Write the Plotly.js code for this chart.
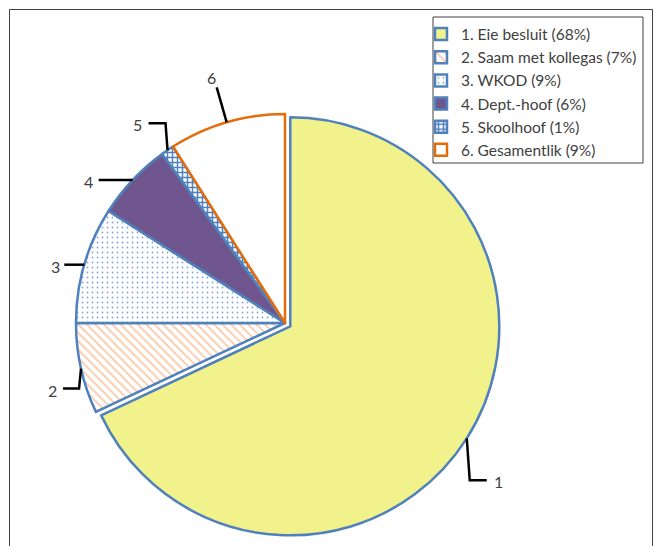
<!DOCTYPE html>
<html><head><meta charset="utf-8">
<script src="https://cdn.plot.ly/plotly-3.0.1.min.js"></script>
<style>html,body{margin:0;padding:0;background:#fff}#chart{width:660px;height:546px}</style>
</head><body><div id="chart"></div>
<script>
// ---- data ----
const categories = ['1. Eie besluit (68%)', '2. Saam met kollegas (7%)', '3. WKOD (9%)', '4. Dept.-hoof (6%)', '5. Skoolhoof (1%)', '6. Gesamentlik (9%)'];
const sliceLabels = ['1', '2', '3', '4', '5', '6'];
const values = [68, 7, 9, 6, 1, 9];

// ---- styles / positions ----
const W = 660, H = 546;
const cx = 285, cy = 323, r = 209, pullFrac = 0.03;
const pulls = [pullFrac, 0, 0, 0, 0, 0];
const baseColors = ['#F2F28C', '#FFFFFF', '#FFFFFF', '#70568F', '#FFFFFF', '#FFFFFF'];
const lineColors = ['#4F81BD', '#4F81BD', '#4F81BD', '#4F81BD', '#4F81BD', '#E46C0A'];
const patShapes = ['', '\\', '.', '', '+', ''];
const patFg = ['#F2F28C', '#F9C9A7', '#7FA6D8', '#70568F', '#4F81BD', '#FFFFFF'];
const patBg = ['#F2F28C', '#FFFFFF', '#FFFFFF', '#70568F', '#FFFFFF', '#FFFFFF'];
const patSize = [6, 6, 5, 6, 5, 6];
const patSolidity = [0.3, 0.3, 0.1, 0.3, 0.5, 0.3];
// leader line offsets in px relative to slice edge point
const elbowOff = [[3, 42], [-2, 20], [0, 0], [0, 0], [-2, -27], [-10, -35]];
const endOff = [[20, 42], [-18, 20], [-20, 0], [-34, 0], [-19, -27], [-10, -35]];
const labelOff = [[32, 43], [-29, 22], [-29, 2], [-44, 2], [-30, -26], [-15, -45]];

const half = r * (1 + pullFrac);
const px = x => x / W, py = y => 1 - y / H;

const trace = {
  type: 'pie',
  values: values,
  labels: categories,
  text: sliceLabels,
  sort: false,
  direction: 'clockwise',
  rotation: 0,
  pull: pulls,
  textinfo: 'none',
  hoverinfo: 'none',
  domain: {x: [px(cx - half), px(cx + half)], y: [py(cy + half), py(cy - half)]},
  marker: {
    colors: baseColors,
    line: {color: lineColors, width: 2.5},
    pattern: {shape: patShapes, fgcolor: patFg, bgcolor: patBg, size: patSize, solidity: patSolidity, fillmode: 'replace'}
  }
};

const total = values.reduce((a, b) => a + b, 0);
const shapes = [];
const annotations = [];
let cum = 0;
values.forEach((v, i) => {
  const mid = (cum + v / 2) / total * 2 * Math.PI;
  cum += v;
  const rr = r * (1 + pulls[i]);
  const P = [cx + rr * Math.sin(mid), cy - rr * Math.cos(mid)];
  const E = [P[0] + elbowOff[i][0], P[1] + elbowOff[i][1]];
  const F = [P[0] + endOff[i][0], P[1] + endOff[i][1]];
  const L = [P[0] + labelOff[i][0], P[1] + labelOff[i][1]];
  shapes.push({type: 'path', xref: 'paper', yref: 'paper',
    path: `M${px(P[0])},${py(P[1])} L${px(E[0])},${py(E[1])} L${px(F[0])},${py(F[1])}`,
    line: {color: '#000000', width: 2.5}});
  annotations.push({xref: 'paper', yref: 'paper', x: px(L[0]), y: py(L[1]), text: sliceLabels[i],
    showarrow: false, xanchor: 'center', yanchor: 'middle',
    font: {family: 'Lato, sans-serif', size: 16, color: '#404040'}});
});
// outer chart frame
shapes.push({type: 'rect', xref: 'paper', yref: 'paper', x0: px(9.5), x1: px(652.5), y0: py(560), y1: py(9.5),
  line: {color: '#404040', width: 1}});
// legend frame
shapes.push({type: 'rect', xref: 'paper', yref: 'paper', x0: px(433), x1: px(643), y0: py(163), y1: py(17),
  line: {color: '#404040', width: 1}});

const layout = {
  width: W, height: H,
  margin: {l: 0, r: 0, t: 0, b: 0},
  paper_bgcolor: '#FFFFFF',
  showlegend: true,
  legend: {x: px(421), y: py(17.5), xanchor: 'left', yanchor: 'top', bgcolor: 'rgba(0,0,0,0)', borderwidth: 0,
    font: {family: 'Lato, sans-serif', size: 15.5, color: '#404040'}},
  shapes: shapes,
  annotations: annotations
};
Plotly.newPlot('chart', [trace], layout, {displayModeBar: false, staticPlot: true});
</script></body></html>
